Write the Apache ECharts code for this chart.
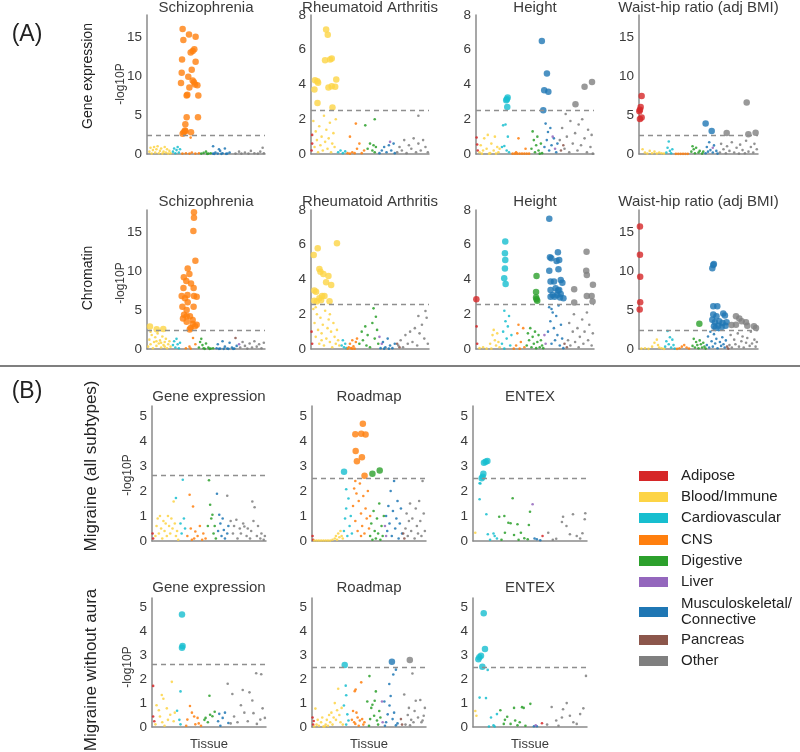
<!DOCTYPE html>
<html><head><meta charset="utf-8">
<script src="https://cdn.jsdelivr.net/npm/echarts/dist/echarts.min.js"></script>
<style>html,body{margin:0;padding:0;background:#fff}#c{width:800px;height:752px}</style>
</head><body><div id="c"></div>
<script>
// ---------------- DATA ----------------
const tissues = ['Adipose','Blood/Immune','Cardiovascular','CNS','Digestive','Liver','Musculoskeletal/\nConnective','Pancreas','Other'];
const tissueColors = ['#d62728','#fdd445','#17becf','#ff7f0e','#2ca02c','#9467bd','#1f77b4','#8c564b','#7f7f7f'];

const panelTitles = ['Schizophrenia','Rheumatoid Arthritis','Height','Waist-hip ratio (adj BMI)',
  'Schizophrenia','Rheumatoid Arthritis','Height','Waist-hip ratio (adj BMI)',
  'Gene expression','Roadmap','ENTEX','Gene expression','Roadmap','ENTEX'];
const yMaxes = [17.8,8,8,17.8, 17.8,8,8,17.8, 5.4,5.4,5.4, 5.4,5.4,5.4];
const yIntervals = [5,2,2,5, 5,2,2,5, 1,1,1, 1,1,1];
const thresholds = [2.4,2.52,2.5,2.39, 2.44,2.57,2.57,2.46, 2.62,2.5,2.5, 2.63,2.51,2.52];
const rowLabels = ['Gene expression','Chromatin','Migraine (all subtypes)','Migraine without aura'];
const yAxisName = '-log10P';
const xAxisName = 'Tissue';

// significant points [tissue position, -log10P, tissue index]
const sczGE_sig = [[30.2,16.0,3],[35.6,15.3,3],[30.8,14.6,3],[41.2,15.0,3],[40.1,13.4,3],[38.7,13.2,3],[37.0,13.0,3],[29.7,12.1,3],[41.2,11.8,3],[37.9,10.8,3],[29.4,10.4,3],[35.0,9.9,3],[28.8,9.1,3],[38.7,9.4,3],[39.8,9.2,3],[40.7,8.9,3],[42.7,8.8,3],[35.9,8.5,3],[43.5,7.5,3],[33.6,7.5,3],[34.2,7.6,3],[33.6,4.7,3],[43.2,4.7,3],[32.5,3.8,3],[32.2,3.0,3],[31.1,2.8,3],[30.2,2.6,3],[37.3,2.8,3],[32.5,2.9,3]];
const raGE_sig = [[3.4,4.25,1],[5.4,4.19,1],[2.9,3.71,1],[6.0,4.1,1],[5.5,2.94,1],[12.8,7.17,1],[14.2,6.87,1],[11.9,5.4,1],[17.6,5.5,1],[16.2,5.44,1],[14.8,3.83,1],[17.6,3.9,1],[21.4,4.29,1],[20.5,3.87,1],[18.2,2.67,1]];
const heightGE_sig = [[26.8,3.25,2],[26.2,3.15,2],[25.6,3.1,2],[26.5,2.71,2],[55.8,6.5,6],[60.1,4.63,6],[57.8,3.67,6],[61.3,3.58,6],[57.0,2.52,6],[84.3,2.87,8],[92.0,3.87,8],[98.3,4.15,8]];
const whrGE_sig = [[2.2,7.44,0],[1.4,6.03,0],[0.8,5.68,0],[0.3,5.47,0],[2.2,4.66,0],[0.8,4.49,0],[56,3.89,6],[61.1,2.95,6],[73.7,2.69,8],[90.5,6.58,8],[91.9,2.52,8],[98.0,2.73,8]];
const sczCh_sig = [[39.8,17.5,3],[39.8,16.8,3],[39.3,15.1,3],[41.0,11.3,3],[34.5,10.3,3],[31.2,9.2,3],[35.9,9.6,3],[33.3,8.7,3],[37.3,8.4,3],[39.5,7.8,3],[30.9,7.8,3],[34.3,6.9,3],[29.4,6.8,3],[42.1,6.7,3],[39.8,6.8,3],[32.2,6.5,3],[34.5,6.0,3],[30.0,5.4,3],[39.5,5.4,3],[33.6,5.0,3],[31.4,4.4,3],[33.6,4.2,3],[36.4,4.2,3],[30.5,3.9,3],[38.7,3.7,3],[33.6,3.5,3],[40.7,2.9,3],[37.0,2.7,3],[38.7,3.2,3],[36.2,2.5,3],[42.1,3.1,3],[2.5,2.87,1],[8.2,2.53,1],[13.8,2.57,1]];
const raCh_sig = [[2.3,5.41,1],[5.7,5.8,1],[22.0,6.08,1],[7.1,4.6,1],[8.0,4.45,1],[10.5,4.32,1],[14.8,4.2,1],[12.8,3.84,1],[17.1,3.68,1],[2.8,3.36,1],[4.3,3.3,1],[9.4,3.05,1],[7.1,2.92,1],[2.8,2.78,1],[4.8,2.73,1],[8.5,2.8,1],[15.7,2.75,1],[11.4,3.05,1]];
const heightCh_sig = [[0.3,2.86,0],[24.8,6.18,2],[24.5,5.51,2],[24.8,5.12,2],[24.5,4.64,2],[23.9,4.07,2],[25.1,3.74,2],[51.3,4.2,4],[50.9,3.28,4],[50.9,2.97,4],[51.3,2.86,4],[51.9,2.78,4],[62.1,7.49,6],[62.7,5.28,6],[63.8,5.22,6],[69.4,5.57,6],[70.5,5.12,6],[68.3,5.07,6],[62.1,4.51,6],[69.9,4.59,6],[63.2,3.88,6],[66.1,3.88,6],[71.8,3.97,6],[73.2,3.82,6],[63.2,3.4,6],[67.5,3.49,6],[69.4,3.36,6],[64.9,3.11,6],[68.9,3.11,6],[71.8,3.17,6],[63.2,3.01,6],[66.6,3.01,6],[71.2,2.96,6],[74.1,2.92,6],[70.5,3.4,6],[83.2,3.44,8],[83.2,2.67,8],[93.7,5.6,8],[93.4,4.51,8],[93.9,4.26,8],[99.1,3.7,8],[93.9,3.05,8],[98.0,3.05,8],[98.8,2.73,8]];
const whrCh_sig = [[0.8,15.7,0],[0.8,12.06,0],[1.0,9.25,0],[1.0,6.0,0],[0.6,5.06,0],[50.7,3.24,4],[61.6,10.33,6],[62.4,10.77,6],[62.9,10.9,6],[62.4,5.49,6],[65.8,5.49,6],[62.4,4.41,6],[65.1,4.19,6],[70.8,4.54,6],[72.2,4.28,6],[61.6,3.76,6],[63.8,3.42,6],[67.4,3.55,6],[70.2,3.33,6],[73.6,3.42,6],[63.0,2.9,6],[66.7,2.98,6],[69.5,2.81,6],[72.8,2.98,6],[64.4,2.68,6],[81.5,3.11,8],[81.5,4.19,8],[84.3,3.89,8],[86.3,3.55,8],[89.9,3.42,8],[91.0,2.98,8],[96.6,2.9,8],[98.3,2.68,8],[77.8,3.07,8]];
const migGE_sig = [];
const migRM_sig = [[28.1,2.77,2],[44.6,4.69,3],[38.0,4.27,3],[43.2,4.29,3],[47.0,4.26,3],[38.3,3.6,3],[43.8,3.35,3],[39.4,3.19,3],[46.1,2.61,3],[53.0,2.69,4],[59.4,2.82,4]];
const migEX_sig = [[12.6,3.2,2],[11.1,3.17,2],[9.6,3.13,2],[9.1,2.69,2],[8.5,2.57,2],[7.6,2.51,2]];
const mwoGE_sig = [[26.3,4.71,2],[26.8,3.39,2],[26.3,3.32,2]];
const mwoRM_sig = [[28.7,2.6,2],[70.1,2.73,6],[85.8,2.8,8]];
const mwoEX_sig = [[9.4,4.76,2],[10.5,3.26,2],[7.0,2.98,2],[5.6,2.92,2],[4.7,2.84,2],[8.2,2.52,2]];

// non-significant points [tissue position, -log10P, tissue index]
const sczGE_ns = [[2,0.3,1],[3,0.8,1],[4,0.05,1],[5,0.5,1],[6,0.9,1],[7,0.2,1],[8,0.6,1],[9,1.0,1],[10,0.1,1],[11,0.4,1],[12,0.7,1],[13,0.05,1],[14,0.3,1],[15,0.9,1],[16,0.2,1],[17,0.6,1],[18,0.05,1],[19,0.4,1],[20,0.1,1],
 [22,0.3,2],[23,0.7,2],[24,0.1,2],[25,0.5,2],[26,0.9,2],[27,0.2,2],[28,0.6,2],
 [30,0.05,3],[33,0.1,3],[36,0.05,3],[38,0.2,3],[41,0.05,3],[44,0.1,3],[37,2.1,3],
 [46,0.05,4],[48,0.15,4],[50,0.3,4],[52,0.05,4],[54,0.1,4],[51,0.02,4],
 [56,0.05,6],[58,0.2,6],[60,0.05,6],[62,0.4,6],[64,0.1,6],[66,0.7,6],[68,0.05,6],[70,0.2,6],[57,0.02,6],[63,0.02,6],[67,0.02,6],[56,1.0,6],[61,0.6,6],
 [75,0.05,8],[78,0.3,8],[80,0.05,8],[83,0.2,8],[86,0.05,8],[88,0.4,8],[91,0.1,8],[94,0.05,8],[96,0.3,8],[98,0.8,8],[99,0.1,8]];
const raGE_ns = [[1,1.1,0],[1,0.6,0],[0.5,0.2,0],
 [2,1.9,1],[3,0.4,1],[4,1.3,1],[5,0.8,1],[6,0.1,1],[7,1.6,1],[8,0.5,1],[9,1.0,1],[10,0.2,1],[11,2.2,1],[12,0.7,1],[13,1.4,1],[14,0.3,1],[15,0.9,1],[16,1.8,1],[17,0.1,1],[18,0.6,1],[19,1.2,1],[20,0.4,1],[21,2.0,1],
 [23,0.1,2],[25,0.2,2],[27,0.05,2],[29,0.15,2],
 [31,0.05,3],[33,0.02,3],[35,0.1,3],[37,0.05,3],[39,0.3,3],[33,1.0,3],[41,0.6,3],[43,0.05,3],[45,0.2,3],[38,1.75,3],
 [48,0.3,4],[50,0.6,4],[52,0.2,4],[53,0.5,4],[54,0.1,4],[55,0.4,4],[46,1.65,4],[54,2.0,4],
 [58,0.05,6],[60,0.2,6],[62,0.4,6],[64,0.1,6],[66,0.5,6],[68,0.2,6],[70,0.6,6],[71,0.05,6],[67,0.7,5],
 [73,0.1,8],[75,0.4,8],[77,0.2,8],[79,0.8,8],[81,0.05,8],[83,0.5,8],[85,0.3,8],[87,0.9,8],[89,0.1,8],[91,0.6,8],[93,0.2,8],[95,0.8,8],[97,0.4,8],[99,0.1,8],[91,2.2,8]];
const heightGE_ns = [[0.5,0.95,0],[1,0.55,0],[1.5,0.2,0],
 [3,0.1,1],[4,0.5,1],[6,0.2,1],[7,0.9,1],[9,0.3,1],[10,1.1,1],[12,0.05,1],[13,0.6,1],[15,0.2,1],[16,1.0,1],[18,0.4,1],[19,0.1,1],[20,0.3,1],[5,0.02,1],[11,0.02,1],[17,0.02,1],
 [22,0.4,2],[23,1.65,2],[24,0.46,2],[25,1.7,2],[26,0.2,2],[27,1.0,2],[28,0.1,2],
 [31,0.02,3],[33,0.02,3],[35,0.02,3],[37,0.02,3],[39,0.02,3],[41,0.02,3],[43,0.02,3],[45,0.02,3],[36,0.9,3],[42,0.3,3],[34,0.1,3],
 [47,0.3,4],[48,1.3,4],[49,0.8,4],[50,0.1,4],[51,0.5,4],[52,1.0,4],[53,0.2,4],[55,0.6,4],[56,0.05,4],[54,0.02,4],
 [58,0.4,6],[59,1.75,6],[60,0.8,6],[61,1.27,6],[62,0.2,6],[63,1.5,6],[64,0.5,6],[66,0.9,6],[68,0.1,6],[69,0.6,6],
 [65,1.0,5],[67,0.3,5],[72,0.2,7],[74,0.5,7],
 [71,0.8,8],[73,1.5,8],[75,0.3,8],[77,1.0,8],[79,0.1,8],[80,1.9,8],[82,0.6,8],[84,1.2,8],[86,0.2,8],[87,1.7,8],[89,0.5,8],[90,2.0,8],[92,0.9,8],[94,0.1,8],[95,1.4,8],[97,0.4,8],[98,1.1,8],[99,0.02,8],[76,2.3,8]];
const whrGE_ns = [[3,0.6,1],[5,0.2,1],[7,0.05,1],[9,0.4,1],[11,0.1,1],[13,0.3,1],[15,0.05,1],[17,0.2,1],[19,0.1,1],[21,0.05,1],
 [23,0.2,2],[24,0.8,2],[25,1.6,2],[26,0.4,2],[27,0.1,2],[28,0.6,2],
 [31,0.02,3],[33,0.02,3],[35,0.02,3],[37,0.02,3],[39,0.02,3],[41,0.02,3],
 [44,0.3,4],[45,1.0,4],[46,0.6,4],[47,0.1,4],[48,0.8,4],[50,0.2,4],[51,0.4,4],[53,0.05,4],[54,0.3,4],
 [56,0.1,6],[57,0.9,6],[58,0.3,6],[59,1.5,6],[60,0.5,6],[62,0.2,6],[63,1.1,6],[65,0.4,6],[66,0.05,6],[62,0.8,5],
 [68,0.2,8],[69,1.3,8],[71,0.6,8],[73,0.1,8],[74,1.0,8],[76,0.4,8],[78,1.5,8],[80,0.2,8],[82,0.8,8],[84,0.05,8],[85,1.2,8],[87,0.5,8],[89,0.1,8],[90,1.7,8],[92,0.3,8],[94,0.9,8],[96,0.2,8],[97,1.3,8],[99,0.6,8]];
const sczCh_ns = [[1,0.3,1],[2,1.2,1],[3,0.6,1],[4,1.8,1],[5,0.1,1],[6,0.9,1],[7,1.5,1],[8,0.4,1],[9,2.0,1],[10,0.7,1],[11,1.1,1],[12,0.2,1],[13,1.6,1],[14,0.5,1],[15,0.9,1],[16,1.3,1],[17,0.1,1],[18,0.6,1],[19,1.0,1],[20,0.3,1],[3,2.2,1],[8,1.0,1],[12,0.8,1],[15,0.3,1],
 [22,0.5,2],[23,1.0,2],[24,0.2,2],[25,1.3,2],[26,0.6,2],[27,0.1,2],[28,0.8,2],
 [33,0.1,3],[36,0.3,3],[39,1.4,3],[41,0.6,3],[37,0.05,3],
 [44,0.2,4],[45,0.9,4],[46,1.3,4],[47,0.5,4],[48,0.1,4],[50,0.7,4],[52,0.2,4],[54,0.05,4],[56,0.1,4],[49,0.02,4],[53,0.02,4],
 [59,0.1,6],[60,0.6,6],[62,0.05,6],[64,1.0,6],[66,0.3,6],[68,0.05,6],[70,0.8,6],[72,0.2,6],[74,0.05,6],[76,0.4,6],[61,0.02,6],[65,0.02,6],[69,0.02,6],[73,0.02,6],
 [75,1.4,7],[78,0.6,5],
 [79,0.2,8],[81,0.9,8],[83,0.4,8],[85,0.05,8],[87,0.7,8],[89,0.2,8],[91,1.0,8],[93,0.3,8],[95,0.6,8],[97,0.1,8],[99,0.8,8]];
const raCh_ns = [[0.5,1.0,0],[1,0.3,0],
 [2,2.3,1],[3,1.5,1],[4,0.7,1],[5,2.0,1],[6,1.1,1],[7,0.3,1],[8,1.8,1],[9,0.9,1],[10,1.4,1],[11,0.2,1],[12,2.2,1],[13,0.6,1],[14,1.2,1],[15,1.7,1],[16,0.4,1],[17,1.0,1],[18,0.1,1],[19,1.5,1],[20,0.7,1],[21,0.3,1],[22,1.1,1],[23,0.5,1],[24,0.2,1],[4,2.4,1],[9,0.5,1],[16,2.0,1],
 [26,0.2,2],[27,0.5,2],[28,0.1,2],[29,0.3,2],[30,0.05,2],
 [32,0.1,3],[33,0.3,3],[34,0.05,3],[35,0.5,3],[36,0.15,3],[37,0.02,3],[38,0.4,3],[39,0.6,3],[31,0.02,3],[35,0.02,3],
 [41,0.3,4],[43,1.0,4],[44,0.5,4],[46,1.3,4],[47,0.2,4],[48,0.8,4],[50,0.1,4],[52,1.5,4],[53,2.34,4],[55,1.86,4],[54,0.6,4],[56,1.1,4],[57,0.3,4],
 [58,0.7,5],[60,0.3,5],
 [59,0.05,6],[61,0.4,6],[63,0.1,6],[65,0.6,6],[67,0.2,6],[69,0.05,6],[71,0.3,6],[62,0.02,6],[66,0.02,6],
 [73,0.3,7],[75,0.1,7],
 [74,0.2,8],[76,0.5,8],[78,0.1,8],[80,0.8,8],[82,0.3,8],[84,1.0,8],[86,0.4,8],[88,1.2,8],[90,0.2,8],[92,0.9,8],[94,1.4,8],[96,0.6,8],[97,2.19,8],[98,1.8,8],[99,0.3,8],[91,1.9,8]];
const heightCh_ns = [[0.5,1.3,0],[1,0.3,0],
 [3,0.05,1],[6,0.1,1],[9,0.02,1],[12,0.3,1],[14,0.8,1],[15,1.1,1],[16,0.5,1],[17,0.2,1],[18,0.9,1],[19,0.4,1],[20,0.1,1],[13,0.02,1],
 [22,0.3,2],[23,1.0,2],[24,2.2,2],[25,1.6,2],[26,0.6,2],[27,1.3,2],[28,1.9,2],[29,0.2,2],[30,0.8,2],[24,0.02,2],
 [32,0.02,3],[34,0.2,3],[35,0.9,3],[36,1.4,3],[38,0.4,3],[40,1.2,3],[41,0.1,3],[37,0.02,3],
 [43,0.2,4],[44,0.9,4],[45,0.5,4],[46,1.2,4],[47,0.1,4],[48,0.7,4],[49,0.3,4],[50,1.0,4],[51,0.05,4],[52,0.4,4],[53,0.8,4],[54,0.1,4],[55,0.5,4],[56,0.2,4],[57,0.05,4],
 [58,0.8,5],[59,0.3,5],
 [61,1.0,6],[62,2.4,6],[63,1.6,6],[64,0.3,6],[65,2.1,6],[66,1.2,6],[67,0.5,6],[68,1.9,6],[69,0.8,6],[70,2.5,6],[71,0.2,6],[72,1.4,6],[73,0.6,6],[74,0.05,6],[64,2.3,6],
 [75,0.3,7],[77,0.1,7],
 [78,0.5,8],[79,1.5,8],[80,0.2,8],[82,1.0,8],[83,2.0,8],[84,0.4,8],[86,1.2,8],[87,0.1,8],[88,0.7,8],[90,1.7,8],[91,0.3,8],[92,1.0,8],[94,2.1,8],[95,0.5,8],[96,1.4,8],[98,0.2,8],[99,0.9,8]];
const whrCh_ns = [[2,0.05,1],[5,0.1,1],[8,0.02,1],[11,0.3,1],[13,0.8,1],[15,1.2,1],[16,0.5,1],[17,0.2,1],[19,0.1,1],[21,0.02,1],
 [22,0.3,2],[23,1.0,2],[24,2.3,2],[25,0.6,2],[26,1.5,2],[27,0.2,2],[28,1.2,2],[29,0.5,2],[30,0.05,2],
 [32,0.02,3],[34,0.1,3],[36,0.3,3],[38,0.5,3],[40,0.2,3],[42,0.05,3],
 [45,0.4,4],[46,1.3,4],[47,0.2,4],[48,0.9,4],[49,0.5,4],[50,0.1,4],[51,1.1,4],[52,0.6,4],[53,0.2,4],[54,0.8,4],[55,0.3,4],[56,0.05,4],
 [57,0.5,6],[58,1.6,6],[59,0.2,6],[60,2.2,6],[61,1.0,6],[62,0.3,6],[63,1.9,6],[64,0.7,6],[65,1.3,6],[66,0.1,6],[67,2.4,6],[68,0.9,6],[69,0.4,6],[70,1.5,6],[71,0.6,6],[72,0.2,6],[73,1.1,6],
 [74,0.3,7],[75,0.05,7],
 [76,0.5,8],[77,1.8,8],[78,0.2,8],[80,1.2,8],[81,0.6,8],[83,2.0,8],[84,0.3,8],[86,1.0,8],[87,1.6,8],[88,0.2,8],[90,0.8,8],[91,1.4,8],[93,0.4,8],[94,2.2,8],[95,0.7,8],[97,1.2,8],[98,0.3,8],[99,0.9,8]];
const migGE_ns = [[0.5,0.3,0],[1,0.1,0],
 [3,0.2,1],[4,0.6,1],[5,0.9,1],[6,0.3,1],[7,1.0,1],[8,0.5,1],[9,0.1,1],[10,0.8,1],[11,0.4,1],[12,0.7,1],[13,0.2,1],[14,1.0,1],[15,0.6,1],[16,0.3,1],[17,0.9,1],[18,0.5,1],[19,1.58,1],[20,0.7,1],[21,0.2,1],[22,0.4,1],[23,0.05,1],
 [25,0.7,2],[26,0.3,2],[27,2.45,2],[28,0.9,2],[21,1.72,2],[29,0.5,2],
 [31,0.2,3],[33,1.85,3],[34,0.5,3],[36,1.38,3],[37,0.1,3],[38,0.38,3],[40,0.2,3],[42,0.6,3],[44,0.05,3],[45,0.3,3],[47,0.1,3],[35,0.05,3],
 [49,0.6,4],[50,2.43,4],[51,1.45,4],[52,0.9,4],[53,1.05,4],[54,0.3,4],[55,0.6,4],[56,0.1,4],
 [57,1.89,6],[58,0.4,6],[59,1.05,6],[60,0.7,6],[61,0.2,6],[62,0.9,6],[63,0.44,6],[64,0.1,6],[66,0.3,6],[67,0.6,6],
 [66,1.81,8],[69,0.8,8],[71,0.3,8],[72,0.6,8],[74,0.85,8],[75,0.1,8],[77,0.5,8],[78,0.3,8],[80,0.7,8],[81,0.58,8],[83,0.2,8],[84,0.5,8],[86,0.1,8],[87,0.4,8],[88,1.58,8],[89,0.8,8],[90,1.35,8],[92,0.2,8],[93,0.6,8],[95,0.1,8],[96,0.3,8],[98,0.05,8],[99,0.2,8]];
const migRM_ns = [[0.5,0.2,0],[1,0.05,0],
 [2,0.02,1],[4,0.02,1],[6,0.02,1],[8,0.02,1],[10,0.02,1],[12,0.02,1],[14,0.02,1],[16,0.02,1],[18,0.05,1],[20,0.1,1],[21,0.2,1],[22,0.05,1],[23,0.3,1],[24,0.15,1],[25,0.4,1],[26,0.2,1],[27,0.1,1],
 [28,0.4,2],[29,0.9,2],[30,1.3,2],[31,0.2,2],[32,1.7,2],[33,0.6,2],[34,1.0,2],[35,0.3,2],[30,2.07,2],
 [36,1.4,3],[37,2.1,3],[38,0.8,3],[39,1.9,3],[40,0.4,3],[41,1.6,3],[42,2.3,3],[43,1.1,3],[44,0.6,3],[45,1.8,3],[46,0.3,3],[47,1.3,3],[48,0.9,3],[49,2.0,3],[50,0.5,3],[51,1.0,3],[38,2.4,3],[43,0.2,3],
 [51,0.2,4],[52,0.7,4],[53,0.05,4],[54,1.2,4],[55,0.4,4],[56,0.1,4],[57,0.9,4],[58,0.3,4],[59,1.5,4],[60,0.05,4],[61,0.6,4],[62,0.2,4],[63,1.0,4],
 [64,0.6,5],[65,0.2,5],
 [65,1.0,6],[66,0.4,6],[67,1.4,6],[68,0.7,6],[69,2.0,6],[70,0.2,6],[71,1.2,6],[72,2.4,6],[73,0.5,6],[74,0.9,6],[75,1.6,6],[76,0.1,6],[77,0.7,6],[78,1.3,6],[79,0.3,6],
 [80,0.3,7],[81,0.1,7],
 [82,0.5,8],[83,1.1,8],[84,0.2,8],[85,0.8,8],[86,1.5,8],[87,0.4,8],[88,0.9,8],[90,0.1,8],[91,1.3,8],[92,0.6,8],[93,0.3,8],[94,1.6,8],[95,0.8,8],[96,0.2,8],[97,2.4,8],[98,1.1,8],[99,0.4,8]];
const migEX_ns = [[2,0.33,1],
 [5.8,2.31,2],[6.5,2.3,2],[5.8,1.67,2],[11.7,1.07,2],[13,0.27,2],[18,0.3,2],[19,0.2,2],[15,0.05,2],[21,0.1,2],
 [23,0.97,4],[27.5,1.0,4],[34.8,1.71,4],[50,1.17,4],[49,0.64,4],[31,0.73,4],[33,0.71,4],[39,0.67,4],[42,0.33,4],[28,0.33,4],[36,0.24,4],[45,0.11,4],[48,0.07,4],[25,0.05,4],[40,0.05,4],
 [52.3,1.47,5],[56,0.07,6],[59,0.03,6],[54,0.1,6],[61,0.2,0],
 [79,0.97,8],[87.7,1.07,8],[98.5,1.11,8],[82,0.6,8],[78,0.76,8],[98,0.87,8],[96,0.31,8],[91,0.2,8],[73,0.09,8],[66,0.33,8],[85,0.27,8],[70,0.05,8],[94,0.1,8]];
const mwoGE_ns = [[1,1.72,0],[1,0.44,0],[2,0.24,0],
 [17.4,1.89,1],[8.6,1.34,1],[10,1.18,1],[4,0.91,1],[13,0.78,1],[16,0.51,1],[7,0.44,1],[19,0.24,1],[3,0.11,1],[11,0.05,1],[14,0.3,1],[6,0.7,1],[20,0.6,1],[9,0.2,1],
 [25,1.49,2],[22,0.68,2],[25,0.11,2],[24,0.3,2],
 [33.3,0.88,3],[37,0.44,3],[31,0.31,3],[40,0.38,3],[38,0.11,3],[43,0.05,3],[35,0.6,3],[41,0.15,3],[30,0.05,3],
 [50.4,1.31,4],[51,0.51,4],[47,0.38,4],[55,0.64,4],[46,0.3,4],[49,0.2,4],[53,0.45,4],
 [59,0.55,6],[62,0.38,6],[67,0.17,6],[58,0.24,6],[64,0.6,6],[60,0.05,6],
 [66.4,1.81,8],[79.6,1.55,8],[85.5,1.45,8],[91.4,2.25,8],[95.8,2.21,8],[70.5,1.38,8],[78,0.91,8],[88,1.11,8],[97,0.78,8],[89,0.58,8],[72,0.44,8],[84,0.24,8],[95,0.31,8],[99,0.38,8],[92,0.13,8],[75,0.2,8],[81,0.6,8],[69,0.15,8]];
const mwoRM_ns = [[0.5,0.4,0],[1,0.1,0],[1.5,0.25,0],
 [2,0.02,1],[4,0.1,1],[5,0.3,1],[3,0.77,1],[6,0.05,1],[8,0.2,1],[9,0.4,1],[10,0.02,1],[12,0.1,1],[13,0.3,1],[14,0.05,1],[15,0.5,1],[16,0.2,1],[17,0.6,1],[18,0.1,1],[19,0.4,1],[20,1.0,1],[21,0.3,1],[22,0.7,1],[23,1.6,1],[24,0.5,1],[25,0.2,1],[26,0.8,1],[27,0.1,1],[11,0.02,1],
 [29.6,1.73,2],[30,1.33,2],[31,0.53,2],[32,0.27,2],[28,0.9,2],[30,0.1,2],
 [43.2,1.87,3],[38.3,1.57,3],[37.5,1.5,3],[36,0.67,3],[40,0.4,3],[42,0.27,3],[44,0.33,3],[38,0.13,3],[46,0.2,3],[41,0.05,3],[35,0.3,3],[39,0.6,3],[45,0.1,3],[37,0.2,3],
 [50.4,2.13,4],[56,1.49,4],[48.5,1.07,4],[53,0.93,4],[59,0.67,4],[54.5,0.47,4],[51,0.33,4],[57,0.27,4],[52,0.8,4],[55,1.1,4],[58,0.1,4],[50,0.05,4],[60,0.4,4],
 [61.4,1.07,5],[62,0.2,5],
 [71.3,2.2,6],[73.6,2.4,6],[67.8,1.8,6],[63.5,1.07,6],[66.4,0.53,6],[70.7,0.33,6],[73.6,0.07,6],[65,0.2,6],[68,0.9,6],[69,1.3,6],[72,0.6,6],[75,0.15,6],[64,0.05,6],
 [78,0.33,7],[79,0.1,7],
 [80.9,1.36,8],[88.1,2.24,8],[90,0.67,8],[95,1.13,8],[85,0.8,8],[93,0.4,8],[97,0.27,8],[89,0.2,8],[86,0.07,8],[98,0.47,8],[82,0.1,8],[91,1.1,8],[84,0.5,8],[99,0.8,8],[96,0.2,8],[87,0.3,8]];
const mwoEX_ns = [[12.9,2.39,2],[5.8,1.23,2],[11.4,1.21,2],[15.8,0.4,2],[21,0.54,2],[18,0.07,2],[14,0.02,2],[19,0.02,2],
 [2,0.67,1],[3,0.47,1],
 [24,0.7,4],[30,0.43,4],[36,0.8,4],[43,0.83,4],[44.5,0.8,4],[50.3,0.97,4],[27,0.13,4],[33,0.13,4],[39,0.07,4],[37,0.27,4],[41,0.2,4],[28,0.3,4],[46,0.05,4],
 [53.5,0.03,6],[56,0.03,6],[55,0.07,5],[60.5,0.16,0],
 [69,0.84,8],[82.2,1.0,8],[79,0.74,8],[85,0.47,8],[88,0.2,8],[94,0.54,8],[96.8,0.78,8],[99.1,2.14,8],[73,0.27,8],[78,0.4,8],[91,0.13,8],[65,0.1,8],[75,0.05,8]];

const sigSets = [sczGE_sig,raGE_sig,heightGE_sig,whrGE_sig,sczCh_sig,raCh_sig,heightCh_sig,whrCh_sig,migGE_sig,migRM_sig,migEX_sig,mwoGE_sig,mwoRM_sig,mwoEX_sig];
const nsSets = [sczGE_ns,raGE_ns,heightGE_ns,whrGE_ns,sczCh_ns,raCh_ns,heightCh_ns,whrCh_ns,migGE_ns,migRM_ns,migEX_ns,mwoGE_ns,mwoRM_ns,mwoEX_ns];

// ---------------- LAYOUT ----------------
const gridBoxes = [
 [147,15,118,139],[311,15,118,139],[476,15,118,139],[639,15,119,139],
 [147,210,118,139],[311,210,118,139],[476,210,118,139],[639,210,119,139],
 [152,406,114,135],[312,406,114,135],[473,406,114,135],
 [152,598,114,135],[312,598,114,135],[473,598,114,135]];
const titleY = [8,8,8,8,202,202,202,202,397,397,397,588,588,588];
const FONT = '"Liberation Sans", Arial, sans-serif';
const TXT = '#3a3a3a';

const grids=[], xAxes=[], yAxes=[], series=[], graphics=[];
gridBoxes.forEach((b,i)=>{
  grids.push({left:b[0], top:b[1], width:b[2], height:b[3], containLabel:false});
  const bottomRow = i>=11;
  xAxes.push({type:'value', gridIndex:i, min:0, max:100,
    axisLine:{show:true, onZero:false, lineStyle:{color:'#8a8a8a', width:1.5}},
    axisTick:{show:false}, axisLabel:{show:false}, splitLine:{show:false},
    name: bottomRow ? xAxisName : '', nameLocation:'middle', nameGap:8,
    nameTextStyle:{color:TXT, fontSize:13, fontFamily:FONT, verticalAlign:'top', padding:[3,0,0,0]}});
  yAxes.push({type:'value', gridIndex:i, min:0, max:yMaxes[i], interval:yIntervals[i],
    axisLine:{show:true, lineStyle:{color:'#8a8a8a', width:1.5}},
    axisTick:{show:false}, splitLine:{show:false},
    axisLabel:{color:TXT, fontSize:13.5, fontFamily:FONT, margin:5,
      showMaxLabel: Math.abs(yMaxes[i] % yIntervals[i]) < 1e-9}});
  series.push({type:'scatter', xAxisIndex:i, yAxisIndex:i, data:nsSets[i], symbolSize:2.6,
    itemStyle:{color:p=>tissueColors[p.data[2]], opacity:0.85}, silent:true, z:2,
    markLine:{silent:true, symbol:'none', label:{show:false}, animation:false,
      lineStyle:{type:[5,4], color:'#8f8f8f', width:1.3}, data:[{yAxis:thresholds[i]}]}});
  series.push({type:'scatter', xAxisIndex:i, yAxisIndex:i, data:sigSets[i], symbolSize:6.5,
    itemStyle:{color:p=>tissueColors[p.data[2]]}, silent:true, z:3});
  graphics.push({type:'text', x:b[0]+b[2]/2, y:titleY[i],
    style:{text:panelTitles[i], fill:TXT, font:'15px '+FONT, textAlign:'center', textVerticalAlign:'middle'}});
});

// section labels & separator
graphics.push({type:'text', x:27, y:35, style:{text:'(A)', fill:'#222', font:'23px '+FONT, textAlign:'center', textVerticalAlign:'middle'}});
graphics.push({type:'text', x:27, y:392, style:{text:'(B)', fill:'#222', font:'23px '+FONT, textAlign:'center', textVerticalAlign:'middle'}});
graphics.push({type:'line', shape:{x1:0, y1:366, x2:800, y2:366}, style:{stroke:'#555', lineWidth:1.5}});
// row labels
const rowLabelPos = [[88,76,14],[88,278,14],[91,466,17],[91,670,17]];
const yNamePos = [[121,84],[121,283],[128,475],[128,667]];
rowLabels.forEach((t,i)=>{
  const p = rowLabelPos[i];
  graphics.push({type:'text', x:p[0], y:p[1], rotation:Math.PI/2,
    style:{text:t, fill:'#222', font:p[2]+'px '+FONT, textAlign:'center', textVerticalAlign:'middle'}});
  graphics.push({type:'text', x:yNamePos[i][0], y:yNamePos[i][1], rotation:Math.PI/2,
    style:{text:yAxisName, fill:TXT, font:'12px '+FONT, textAlign:'center', textVerticalAlign:'middle'}});
});
// legend
const legendY = [476,497,518,540,561,582,612,640,661];
tissues.forEach((t,i)=>{
  graphics.push({type:'rect', shape:{x:639, y:legendY[i]-5, width:29, height:10}, style:{fill:tissueColors[i]}});
  graphics.push({type:'text', x:681, y:legendY[i],
    style:{text:t, fill:'#222', font:'15px '+FONT, textAlign:'left', textVerticalAlign:'middle', lineHeight:16}});
});

const chart = echarts.init(document.getElementById('c'), null, {renderer:'canvas'});
chart.setOption({animation:false, backgroundColor:'#fff', grid:grids, xAxis:xAxes, yAxis:yAxes, series:series, graphic:graphics});
</script></body></html>
